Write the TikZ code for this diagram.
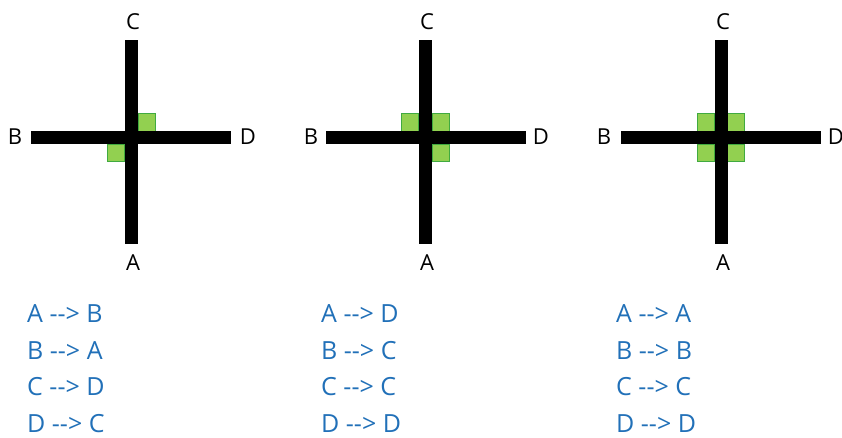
\documentclass[tikz,border=0pt]{standalone}
\usepackage{fontspec}
\setmainfont{Open Sans}
\usetikzlibrary{positioning}
\definecolor{listblue}{RGB}{33,112,184}
\definecolor{tilegreen}{RGB}{146,208,80}
\definecolor{tileedge}{RGB}{64,170,64}
\newcommand{\maps}{{-}{-}>}

\begin{document}
\begin{tikzpicture}[
  x=1pt, y=-1pt,
  bar/.style={line width=13pt, black},
  tile/.style={draw=tileedge, fill=tilegreen, line width=0.8pt, inner sep=0pt, minimum width=17pt, minimum height=17.5pt},
  arm/.style={inner sep=0pt, font=\fontsize{22}{24}\selectfont},
  rule/.style={anchor=base west, inner sep=0pt, text=listblue, font=\fontsize{25}{28}\selectfont},
  ]
  \useasboundingbox (0,0) rectangle (842,437);

  % first crossing
  \node[arm] (A1) at (133,263) {A};
  \node[arm] (B1) at (15,137) {B};
  \node[arm] (C1) at (133,22) {C};
  \node[arm] (D1) at (248,137) {D};
  \coordinate (t1) at (131.5,40);  \coordinate (b1) at (131.5,244);
  \coordinate (l1) at (31,137.5);  \coordinate (r1) at (231,137.5);
  \node[tile, anchor=south west] (ur1) at (138,131.5) {};
  \node[tile, anchor=north east] (ll1) at (125,143.5) {};
  \draw[bar] (t1) -- (b1);
  \draw[bar] (l1) -- (r1);

  % second crossing
  \node[arm] (A2) at (427,263) {A};
  \node[arm] (B2) at (311,137) {B};
  \node[arm] (C2) at (427,22) {C};
  \node[arm] (D2) at (541,137) {D};
  \coordinate (t2) at (425.5,40);  \coordinate (b2) at (425.5,244);
  \coordinate (l2) at (326,137.5); \coordinate (r2) at (526,137.5);
  \node[tile, anchor=south east] (ul2) at (419,131.5) {};
  \node[tile, anchor=south west] (ur2) at (432,131.5) {};
  \node[tile, anchor=north west] (lr2) at (432,143.5) {};
  \draw[bar] (t2) -- (b2);
  \draw[bar] (l2) -- (r2);

  % third crossing
  \node[arm] (A3) at (723,263) {A};
  \node[arm] (B3) at (604,137) {B};
  \node[arm] (C3) at (723,22) {C};
  \node[arm] (D3) at (836,137) {D};
  \coordinate (t3) at (721,40);    \coordinate (b3) at (721,244);
  \coordinate (l3) at (621,137.5); \coordinate (r3) at (821,137.5);
  \node[tile, anchor=south east] (ul3) at (715,131.5) {};
  \node[tile, anchor=south west] (ur3) at (727,131.5) {};
  \node[tile, anchor=north east] (ll3) at (715,143.5) {};
  \node[tile, anchor=north west] (lr3) at (727,143.5) {};
  \draw[bar] (t3) -- (b3);
  \draw[bar] (l3) -- (r3);

  % mappings
  \node[rule] (m1a) at (27,322) {A \maps{} B};
  \node[rule] (m1b) at (27,359) {B \maps{} A};
  \node[rule] (m1c) at (27,395) {C \maps{} D};
  \node[rule] (m1d) at (27,432) {D \maps{} C};
  \node[rule] (m2a) at (321,322) {A \maps{} D};
  \node[rule] (m2b) at (321,359) {B \maps{} C};
  \node[rule] (m2c) at (321,395) {C \maps{} C};
  \node[rule] (m2d) at (321,432) {D \maps{} D};
  \node[rule] (m3a) at (616,322) {A \maps{} A};
  \node[rule] (m3b) at (616,359) {B \maps{} B};
  \node[rule] (m3c) at (616,395) {C \maps{} C};
  \node[rule] (m3d) at (616,432) {D \maps{} D};
\end{tikzpicture}
\end{document}
